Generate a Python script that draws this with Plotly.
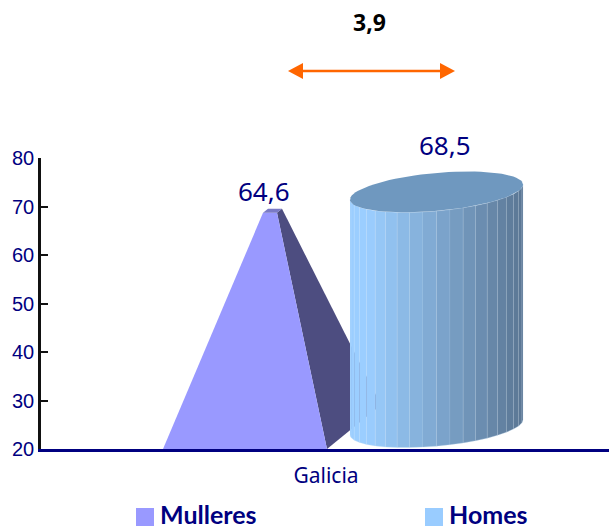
import numpy as np
import plotly.graph_objects as go

categories = ["Galicia"]
series_names = ["Mulleres", "Homes"]
mulleres = [64.6]
homes = [68.5]
diff_label = "3,9"
y_ticks = [20, 30, 40, 50, 60, 70, 80]

NAVY = "#000080"
ORANGE = "#FF6600"
TXT_FONT = "Noto Sans"
LEG_FONT = "Lato"
PX = 4.85           # pixels per value unit on the y axis
BASE = 24.5         # 3D depth offset of the base centre, in value units
CENTER = 287        # category tick on the x axis
XMAX = 570


def dy(px):
    return px / PX


def paper(v):
    return (v - 20) / 60


def fmt(v):
    return f"{v:.1f}".replace(".", ",")


fig = go.Figure()


def poly(xs, ys, color, line=None):
    fig.add_trace(go.Scatter(
        x=list(xs), y=list(ys), mode="lines", fill="toself", fillcolor=color,
        line=dict(color=line or color, width=0.7 if line else 0),
        hoverinfo="skip", showlegend=False))


# ---- pyramid (Mulleres) ----
v = mulleres[0]
top = BASE + (v - 20)
base_y = 20
fl, fr = CENTER - 163, CENTER + 1
back = (CENTER + 55, base_y + dy(44))
top_fl, top_fr = CENTER - 63, CENTER - 49
top_bl, top_br = CENTER - 58, CENTER - 44
t_front, t_back = top - dy(2), top + dy(2)
poly([top_fr, top_br, back[0], fr], [t_front, t_back, back[1], base_y], "#4D4D80")
poly([fl, fr, top_fr, top_fl], [base_y, base_y, t_front, t_front], "#9999FF")
poly([top_fl, top_bl, top_br, top_fr], [t_front, t_back, t_back, t_front], "#7A7AC6")

# ---- cylinder (Homes) ----
v = homes[0]
cx, A, B, C = CENTER + 110.5, 86.5, 19.0, 7.5
y_bot = BASE
y_top = BASE + (v - 20)
N = 20
edges = np.linspace(np.pi, 2 * np.pi, N + 1)
col_a, col_b = np.array([0x9B, 0xCE, 0xFF]), np.array([0x5A, 0x76, 0x93])
for i in range(N):
    t = np.linspace(edges[i], edges[i + 1], 6)
    ex = cx + A * np.cos(t)
    off = dy(1) * (B * np.sin(t) + C * np.cos(t))
    xs = np.r_[ex, ex[::-1]]
    ys = np.r_[y_top + off, (y_bot + off)[::-1]]
    f = max(0.0, (ex.mean() - (cx - A) - 18) / (2 * A - 18))
    c = col_a + (col_b - col_a) * f
    poly(xs, ys, f"rgb({c[0]:.0f},{c[1]:.0f},{c[2]:.0f})", line="rgba(205,225,245,0.45)")
t = np.linspace(0, 2 * np.pi, 80)
poly(cx + A * np.cos(t), y_top + dy(1) * (B * np.sin(t) + C * np.cos(t)), "#6F98BF")

# ---- difference arrow (above the plot area: paper-referenced) ----
ARROW_Y = paper(20 + dy(378))
AL, AR = CENTER - 38, CENTER + 129
HEAD, HALF = 15, dy(8) / 60
fig.add_shape(type="line", xref="x", yref="paper", x0=AL + HEAD, x1=AR - HEAD, y0=ARROW_Y, y1=ARROW_Y,
              line=dict(color=ORANGE, width=2.5))
for tip, bx in ((AL, AL + HEAD), (AR, AR - HEAD)):
    fig.add_shape(type="path", xref="x", yref="paper", fillcolor=ORANGE, line_width=0,
                  path=f"M {tip} {ARROW_Y} L {bx} {ARROW_Y + HALF} L {bx} {ARROW_Y - HALF} Z")

# ---- legend swatches ----
LEG_Y = paper(20 - dy(68))
LEG_TXT_Y = paper(20 - dy(65))
SW = dy(9) / 60
for x0, col in ((97, "#9999FF"), (386, "#99CCFF")):
    fig.add_shape(type="rect", xref="x", yref="paper", x0=x0, x1=x0 + 18, y0=LEG_Y - SW, y1=LEG_Y + SW,
                  fillcolor=col, line_width=0)

ann = [
    dict(x=225, y=paper(BASE + mulleres[0] - 20 + dy(20)), text=fmt(mulleres[0]),
         font=dict(size=26, color=NAVY, family=TXT_FONT)),
    dict(x=406, y=paper(BASE + homes[0] - 20 + dy(47)), text=fmt(homes[0]),
         font=dict(size=26, color=NAVY, family=TXT_FONT)),
    dict(x=330, y=paper(20 + dy(427)), text=f"<b>{diff_label}</b>",
         font=dict(size=23, color="#000000", family=TXT_FONT)),
    dict(x=119, y=LEG_TXT_Y, text=f"<b>{series_names[0]}</b>", xanchor="left",
         font=dict(size=25, color=NAVY, family=LEG_FONT)),
    dict(x=408, y=LEG_TXT_Y, text=f"<b>{series_names[1]}</b>", xanchor="left",
         font=dict(size=25, color=NAVY, family=LEG_FONT)),
]
for a in ann:
    a.setdefault("xanchor", "center")
    fig.add_annotation(showarrow=False, xref="x", yref="paper", yanchor="middle", **a)

fig.update_layout(
    width=609, height=529, autosize=False,
    margin=dict(l=41, r=0, t=158, b=80),
    paper_bgcolor="white", plot_bgcolor="white",
    showlegend=False,
    xaxis=dict(range=[2, XMAX], tickmode="array", tickvals=[CENTER], ticktext=categories,
               showgrid=False, zeroline=False, showline=True, linecolor=NAVY, linewidth=3,
               ticks="", ticklabelstandoff=6, tickfont=dict(size=21, color=NAVY, family=TXT_FONT)),
    yaxis=dict(range=[20, 80], tickmode="array", tickvals=y_ticks, showgrid=False, zeroline=False,
               showline=True, linecolor="#111111", linewidth=2.5, ticks="inside", ticklen=7,
               tickwidth=2, tickcolor="#111111",
               tickfont=dict(size=20, color=NAVY, family="Liberation Sans")),
)
# Remove the page's default body margin so the figure fills the window exactly.
fig.write_html("out.html", config={"displayModeBar": False},
               post_script="document.body.style.margin='0';document.body.style.overflow='hidden';")
